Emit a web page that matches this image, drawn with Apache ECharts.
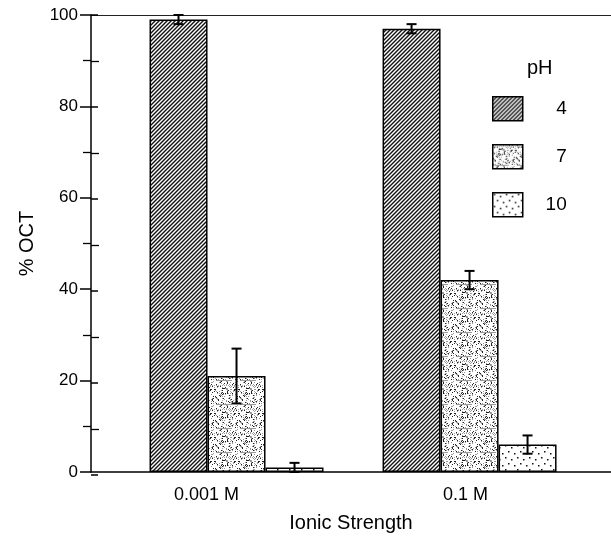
<!DOCTYPE html>
<html><head><meta charset="utf-8">
<script src="https://cdn.jsdelivr.net/npm/echarts@6/dist/echarts.min.js"></script>
<style>html,body{margin:0;padding:0;background:#fff}#c{width:611px;height:538px}</style>
</head><body><div id="c"></div>
<script>
// ---- data ----
const groups = ['0.001 M', '0.1 M'];
const phNames = ['4', '7', '10'];
const pH4 = [99, 97];
const pH7 = [21, 42];
const pH10 = [1, 6];
const err4 = [1, 1];
const err7 = [6, 2];
const err10 = [1, 2];
const yMin = 0, yMax = 100, yStep = 20;

// ---- style ----
const FONT = 'Liberation Sans, Arial, Helvetica, sans-serif';
const BAR_W = 58;
const X_MIN = 0.3755, X_MAX = 2.607;

function makeTile(w, h, draw) {
  const c = document.createElement('canvas'); c.width = w; c.height = h;
  const ctx = c.getContext('2d'); ctx.fillStyle = '#fff'; ctx.fillRect(0, 0, w, h);
  draw(ctx, w, h); return c;
}
const hatch = makeTile(4, 4, (ctx, w, h) => {
  ctx.strokeStyle = '#111'; ctx.lineWidth = 1.4; ctx.beginPath();
  ctx.moveTo(0, h); ctx.lineTo(w, 0);
  ctx.moveTo(-1, 1); ctx.lineTo(1, -1);
  ctx.moveTo(w - 1, h + 1); ctx.lineTo(w + 1, h - 1);
  ctx.stroke();
});
const fine = makeTile(24, 24, (ctx, w, h) => {
  for (let i = 0; i < w; i++) for (let j = 0; j < h; j++) {
    const v = (i * 37 + j * 91 + i * j * 13 + (i ^ j) * 7) % 19;
    if (v < 2) { ctx.fillStyle = '#222'; ctx.fillRect(i, j, 1, 1); }
    else if (v < 5) { ctx.fillStyle = '#9a9a9a'; ctx.fillRect(i, j, 1, 1); }
  }
});
const sparse = makeTile(12, 12, (ctx) => {
  ctx.fillStyle = '#111';
  [[1, 1], [7, 3], [4, 7], [10, 9]].forEach(p => ctx.fillRect(p[0], p[1], 1.5, 1.5));
});

const values = [pH4, pH7, pH10];
const errs = [err4, err7, err10];
const patterns = [hatch, fine, sparse];

const barSeries = phNames.map((n, k) => ({
  name: n, type: 'bar', xAxisIndex: 0, yAxisIndex: 0,
  barWidth: BAR_W, barGap: '0%',
  data: values[k].map((v, i) => [i + 1, v]),
  itemStyle: { color: { image: patterns[k], repeat: 'repeat' }, borderColor: '#000', borderWidth: 1.5 },
  emphasis: { disabled: true }, silent: true
}));
const errSeries = phNames.map((n, k) => ({
  type: 'custom', name: 'err' + n, xAxisIndex: 0, yAxisIndex: 0, z: 5, silent: true,
  data: values[k].map((v, i) => [i + 1, v, errs[k][i]]),
  renderItem: (params, api) => {
    const x = api.value(0), y = api.value(1), e = api.value(2);
    const top = api.coord([x, y + e]), bot = api.coord([x, y - e]);
    const cx = top[0] + (k - 1) * BAR_W;
    const hw = 5;
    const st = { stroke: '#000', lineWidth: 2 };
    return { type: 'group', children: [
      { type: 'line', shape: { x1: cx, y1: top[1], x2: cx, y2: bot[1] }, style: st },
      { type: 'line', shape: { x1: cx - hw, y1: top[1], x2: cx + hw, y2: top[1] }, style: st },
      { type: 'line', shape: { x1: cx - hw, y1: bot[1], x2: cx + hw, y2: bot[1] }, style: st }
    ] };
  }
}));

const gridBox = { left: 91, right: 0, top: 15, bottom: 63 };
const option = {
  animation: false,
  backgroundColor: '#fff',
  textStyle: { fontFamily: FONT, color: '#000' },
  title: { text: 'pH', left: 522, top: 53, textStyle: { fontFamily: FONT, fontSize: 20, fontWeight: 'normal', color: '#000' } },
  legend: {
    data: phNames, orient: 'vertical', left: 487, top: 91, itemWidth: 30, itemHeight: 24, itemGap: 22.5,
    icon: 'rect', selectedMode: false,
    itemStyle: { borderColor: '#000', borderWidth: 1.5 },
    formatter: name => '{t|' + name + '}',
    textStyle: { fontFamily: FONT, fontSize: 19, color: '#000', rich: { t: { width: 39, align: 'right', fontFamily: FONT, fontSize: 19, color: '#000' } } }
  },
  grid: [Object.assign({}, gridBox), Object.assign({}, gridBox)],
  xAxis: [
    { type: 'value', gridIndex: 0, position: 'bottom', min: X_MIN, max: X_MAX,
      axisLine: { show: true, lineStyle: { color: '#000', width: 1.5 } },
      axisTick: { show: false }, splitLine: { show: false },
      axisLabel: {
        customValues: [1, 2], margin: 14,
        formatter: v => { const i = Math.round(v) - 1; return '{g' + i + '|' + groups[i] + '}'; },
        rich: {
          g0: { padding: [0, 60, 0, 0], fontFamily: FONT, fontSize: 18, color: '#000' },
          g1: { padding: [0, 8, 0, 0], fontFamily: FONT, fontSize: 18, color: '#000' }
        }
      },
      name: 'Ionic Strength', nameLocation: 'middle', nameGap: 41,
      nameTextStyle: { fontFamily: FONT, fontSize: 20, color: '#000' }
    },
    { type: 'value', gridIndex: 0, position: 'top', min: X_MIN, max: X_MAX,
      axisLine: { show: true, lineStyle: { color: '#222', width: 1.2 } },
      axisTick: { show: false }, axisLabel: { show: false }, splitLine: { show: false } },
    { type: 'value', gridIndex: 1, min: X_MIN, max: X_MAX, show: false }
  ],
  yAxis: [
    { type: 'value', gridIndex: 0, min: yMin, max: yMax, interval: yStep,
      axisLine: { show: true, lineStyle: { color: '#000', width: 1.5 } },
      axisTick: { show: true, length: 11, lineStyle: { color: '#000', width: 1.5 } },
      minorTick: { show: true, splitNumber: 2, length: 8, lineStyle: { color: '#000', width: 1.3 } },
      splitLine: { show: false },
      axisLabel: { margin: 13, fontFamily: FONT, fontSize: 17, color: '#000' },
      name: '% OCT', nameLocation: 'middle', nameGap: 54,
      nameTextStyle: { fontFamily: FONT, fontSize: 20, color: '#000' }
    },
    { type: 'value', gridIndex: 1, min: yMin, max: yMax, interval: yStep, position: 'left',
      axisLine: { show: false },
      axisTick: { show: true, inside: true, length: 7, lineStyle: { color: '#000', width: 1.5 } },
      minorTick: { show: true, splitNumber: 2, length: 8, lineStyle: { color: '#000', width: 1.3 } },
      splitLine: { show: false }, axisLabel: { show: false }
    }
  ],
  series: barSeries.concat(errSeries)
};
const chart = echarts.init(document.getElementById('c'), null, { renderer: 'canvas' });
chart.setOption(option);
</script>
</body></html>
